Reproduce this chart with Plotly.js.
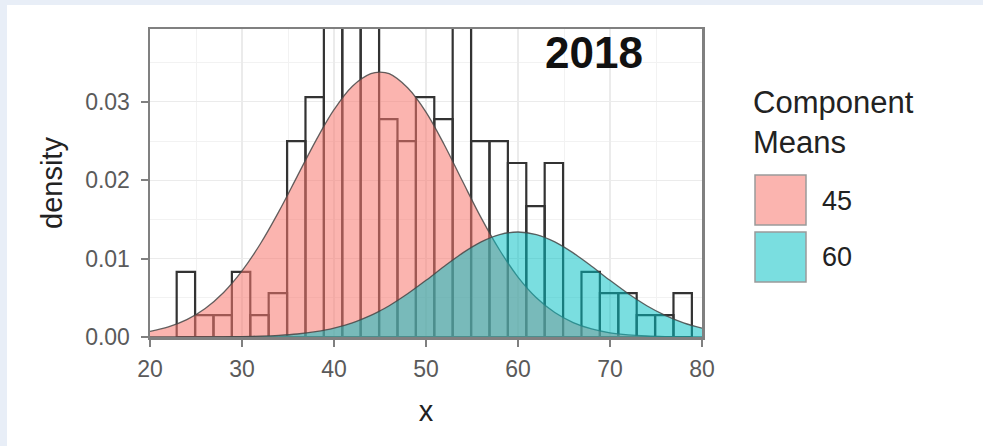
<!DOCTYPE html>
<html>
<head>
<meta charset="utf-8">
<script src="https://cdn.plot.ly/plotly-3.0.1.min.js"></script>
<style>
  html, body { margin: 0; padding: 0; background: #e8eef7; width: 983px; height: 446px; overflow: hidden; }
  #chart { position: absolute; left: 7px; top: 5px; width: 976px; height: 441px; background: #ffffff; }
</style>
</head>
<body>
<div id="chart"></div>
<script>
// ---- data ----
const binCenters = [23.9,25.9,27.9,29.9,31.9,33.9,35.9,37.9,39.9,41.9,43.9,45.9,47.9,49.9,51.9,53.9,55.9,57.9,59.9,61.9,63.9,65.9,67.9,69.9,71.9,73.9,75.9,77.9];
const binDensity = [0.0083,0.0028,0.0028,0.0083,0.0028,0.0056,0.0250,0.0306,0.0417,0.0472,0.0444,0.0278,0.0250,0.0306,0.0278,0.0417,0.0250,0.0250,0.0222,0.0167,0.0222,0,0.0083,0.0056,0.0056,0.0028,0.0028,0.0056];
const binWidth = 2;

const curveX = [20,22,24,26,28,30,32,34,36,38,40,42,44,45,46,48,50,52,54,56,58,60,62,64,66,68,70,72,74,76,78,80];
const comp45 = [0.00071,0.00129,0.00222,0.00364,0.00568,0.00843,0.0119,0.0160,0.0205,0.0250,0.0290,0.0320,0.0336,0.0338,0.0336,0.0318,0.0287,0.0245,0.0198,0.0152,0.0111,0.00765,0.00501,0.00312,0.00184,0.00103,0.00054,0.00027,0.00013,0.00006,0.00002,0.00001];
const comp60 = [0,0.000001,0.000004,0.00001,0.00002,0.00005,0.00011,0.00021,0.00038,0.00068,0.00113,0.00181,0.00276,0.00334,0.00399,0.00551,0.00723,0.00903,0.01073,0.01214,0.01307,0.0134,0.01307,0.01214,0.01073,0.00903,0.00723,0.00551,0.00399,0.00276,0.00181,0.00113];

const componentNames = ["45", "60"];
const componentFill = ["rgba(248,118,109,0.55)", "rgba(0,191,196,0.52)"];
const legendTitle = "Component<br>Means";
const panelTitle = "2018";
const xTicks = [20,30,40,50,60,70,80];
const yTicks = [0.00,0.01,0.02,0.03];
const yTickText = ["0.00","0.01","0.02","0.03"];

// ---- traces ----
const traces = [
  {
    type: "bar", x: binCenters, y: binDensity, width: binWidth,
    marker: { color: "rgba(0,0,0,0)", line: { color: "#333333", width: 2.2 } },
    showlegend: false, hoverinfo: "skip"
  },
  {
    type: "scatter", mode: "lines", x: curveX, y: comp45, name: componentNames[0],
    fill: "tozeroy", fillcolor: componentFill[0],
    line: { color: "rgba(70,70,70,0.85)", width: 1.3, shape: "spline" },
    showlegend: false
  },
  {
    type: "scatter", mode: "lines", x: curveX, y: comp60, name: componentNames[1],
    fill: "tozeroy", fillcolor: componentFill[1],
    line: { color: "rgba(70,70,70,0.85)", width: 1.3, shape: "spline" },
    showlegend: false
  }
];

// ---- legend drawn as keys + labels ----
const L = 143, W = 552, T = 24, H = 308;
function px(xd) { return (xd - L) / W; }
function py(yd) { return (T + H - yd) / H; }
const keyTops = [170, 227];
const keySize = 51;
const shapes = [];
const annotations = [];
componentNames.forEach((nm, i) => {
  shapes.push({
    type: "rect", xref: "paper", yref: "paper",
    x0: px(748), x1: px(748 + keySize), y0: py(keyTops[i]), y1: py(keyTops[i] + keySize - 1),
    fillcolor: componentFill[i], line: { color: "#9a9a9a", width: 1.5 }
  });
  annotations.push({
    xref: "paper", yref: "paper", x: px(813), y: py(keyTops[i] + keySize / 2),
    xanchor: "left", yanchor: "middle", text: nm, showarrow: false,
    font: { family: "Liberation Sans, Arial, sans-serif", size: 27, color: "#222222" }
  });
});
annotations.push({
  xref: "paper", yref: "paper", x: px(744), y: py(117),
  xanchor: "left", yanchor: "middle", align: "left", text: legendTitle, showarrow: false,
  font: { family: "Liberation Sans, Arial, sans-serif", size: 31, color: "#222222" }
});
annotations.push({
  xref: "paper", yref: "paper", x: px(587), y: py(47),
  xanchor: "center", yanchor: "middle", text: "<b>" + panelTitle + "</b>", showarrow: false,
  font: { family: "Liberation Sans, Arial, sans-serif", size: 44, color: "#111111" }
});

const layout = {
  width: 976, height: 441,
  margin: { l: L, r: 976 - L - W, t: T, b: 441 - T - H, pad: 0 },
  paper_bgcolor: "#ffffff", plot_bgcolor: "#ffffff",
  barmode: "overlay",
  showlegend: false,
  font: { family: "Liberation Sans, Arial, sans-serif" },
  xaxis: {
    range: [20, 80], tickvals: xTicks, ticks: "outside", ticklen: 7, tickwidth: 2, tickcolor: "#808080",
    showline: true, linecolor: "#808080", linewidth: 2.5, mirror: true,
    showgrid: true, gridcolor: "#ebebeb", gridwidth: 1.2, zeroline: false,
    minor: { dtick: 5, showgrid: true, gridcolor: "#f2f2f2", gridwidth: 1 },
    tickfont: { size: 23, color: "#5a5a5a" },
    ticklabelstandoff: 3,
    title: { text: "x", font: { size: 29, color: "#222222" }, standoff: 20 }
  },
  yaxis: {
    range: [0, 0.0393], tickvals: yTicks, ticktext: yTickText, ticks: "outside", ticklen: 7, tickwidth: 2, tickcolor: "#808080",
    showline: true, linecolor: "#808080", linewidth: 2.5, mirror: true,
    showgrid: true, gridcolor: "#ebebeb", gridwidth: 1.2, zeroline: false,
    minor: { dtick: 0.005, showgrid: true, gridcolor: "#f2f2f2", gridwidth: 1 },
    tickfont: { size: 23, color: "#5a5a5a" },
    ticklabelstandoff: 6,
    title: { text: "density", font: { size: 29, color: "#222222" }, standoff: 14 }
  },
  shapes: shapes,
  annotations: annotations
};

Plotly.newPlot("chart", traces, layout, { displayModeBar: false, staticPlot: true });
</script>
</body>
</html>
